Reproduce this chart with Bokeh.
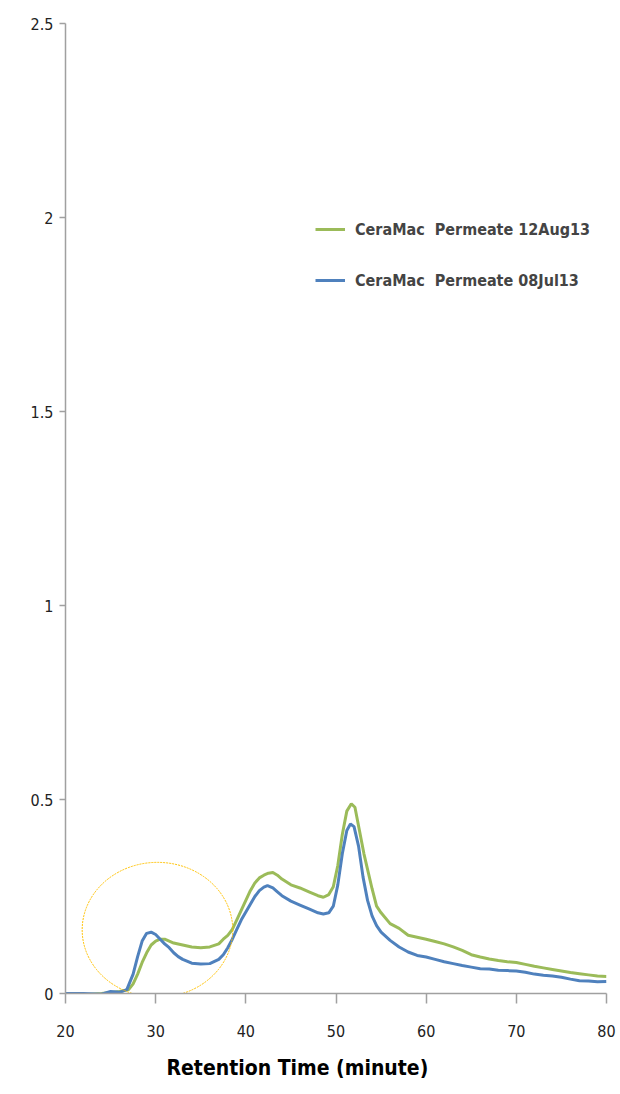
from bokeh.plotting import figure
from bokeh.models import Legend, LegendItem, FixedTicker, Range1d, Title
from bokeh.embed import file_html
from bokeh.resources import INLINE

# ---- data ----
blue_t = [20, 22, 24, 25, 26, 26.8, 27.5, 28, 28.5, 29, 29.5, 30, 30.5, 31, 31.5, 32, 32.5, 33, 34, 35,
          36, 37, 37.5, 38, 38.5, 39, 39.5, 40, 40.5, 41, 41.5, 42, 42.4, 43, 43.5, 44, 45, 46, 47, 48,
          48.6, 49.2, 49.7, 50.2, 50.7, 51.2, 51.6, 52, 52.5, 53, 53.5, 54, 54.5, 55, 56, 57, 58, 59, 60,
          61, 62, 63, 64, 65, 66, 67, 68, 69, 70, 71, 72, 73, 74, 75, 76, 77, 78, 79, 80]
blue_v = [0.0, 0.0, -0.002, 0.005, 0.003, 0.01, 0.05, 0.095, 0.135, 0.155, 0.158, 0.152, 0.14, 0.128,
          0.118, 0.105, 0.095, 0.088, 0.078, 0.076, 0.077, 0.088, 0.10, 0.118, 0.14, 0.165, 0.19, 0.21,
          0.23, 0.25, 0.265, 0.274, 0.278, 0.272, 0.262, 0.252, 0.238, 0.228, 0.218, 0.208, 0.205, 0.208,
          0.225, 0.28, 0.36, 0.42, 0.437, 0.43, 0.38, 0.30, 0.24, 0.20, 0.175, 0.158, 0.137, 0.12, 0.107,
          0.098, 0.094, 0.088, 0.082, 0.077, 0.072, 0.068, 0.064, 0.063, 0.060, 0.059, 0.058, 0.055, 0.050,
          0.047, 0.045, 0.042, 0.037, 0.033, 0.032, 0.030, 0.031]

green_t = [20, 22, 24, 26, 27, 27.5, 28, 28.5, 29, 29.5, 30, 30.5, 31, 31.5, 32, 33, 34, 35, 36, 37,
           37.5, 38, 38.5, 39, 39.5, 40, 40.5, 41, 41.5, 42, 42.5, 43, 43.5, 44, 45, 46, 47, 48, 48.6,
           49.2, 49.7, 50.2, 50.7, 51.2, 51.7, 52.1, 52.6, 53.1, 53.5, 54, 54.5, 55, 56, 57, 58, 59, 60,
           61, 62, 63, 64, 65, 66, 67, 68, 69, 70, 71, 72, 73, 74, 75, 76, 77, 78, 79, 80]
green_v = [-0.004, -0.003, 0.0, 0.005, 0.01, 0.025, 0.05, 0.08, 0.105, 0.125, 0.135, 0.14, 0.14, 0.135,
           0.13, 0.125, 0.12, 0.118, 0.12, 0.128, 0.14, 0.15, 0.165, 0.19, 0.215, 0.24, 0.265, 0.285,
           0.298, 0.305, 0.31, 0.312, 0.305, 0.295, 0.28, 0.272, 0.262, 0.252, 0.248, 0.255, 0.275, 0.33,
           0.41, 0.47, 0.489, 0.48, 0.42, 0.36, 0.32, 0.27, 0.225, 0.208, 0.18, 0.168, 0.15, 0.145, 0.14,
           0.134, 0.128, 0.12, 0.111, 0.1, 0.094, 0.089, 0.085, 0.082, 0.080, 0.075, 0.070, 0.066, 0.062,
           0.058, 0.054, 0.051, 0.048, 0.045, 0.044]

series_names = ["CeraMac  Permeate 12Aug13", "CeraMac  Permeate 08Jul13"]
x_ticks = [20, 30, 40, 50, 60, 70, 80]
y_ticks = [0, 0.5, 1, 1.5, 2, 2.5]
y_tick_labels = ["0", "0.5", "1", "1.5", "2", "2.5"]
x_title = "Retention Time (minute)"

# highlight ellipse (center, width, height in data units)
hl_x, hl_y, hl_w, hl_h = 30.2, 0.164, 16.7, 0.348

FONT = "DejaVu Sans Condensed, Roboto, sans-serif"
GREEN = "#9BBB59"
BLUE = "#4F81BD"
AXIS = "#A0A0A0"

p = figure(width=620, height=1094, output_backend="svg", toolbar_location=None,
           x_range=Range1d(20, 80), y_range=Range1d(0, 2.5),
           min_border_left=65, min_border_right=14, min_border_top=23, min_border_bottom=101)
p.outline_line_color = None
p.grid.visible = False
p.background_fill_color = "white"
p.border_fill_color = "white"

g = p.line(green_t, green_v, line_color=GREEN, line_width=3)
b = p.line(blue_t, blue_v, line_color=BLUE, line_width=3)

p.ellipse(x=[hl_x], y=[hl_y], width=[hl_w], height=[hl_h], fill_alpha=0,
          line_color="#FFC000", line_width=1, line_dash="2 1")

# axes
xa = p.xaxis[0]
xa.ticker = FixedTicker(ticks=x_ticks)
xa.minor_tick_line_color = None
xa.major_tick_in = 0
xa.major_tick_out = 10
xa.axis_line_color = AXIS
xa.axis_line_width = 1.5
xa.major_tick_line_color = AXIS
xa.major_tick_line_width = 1.5
xa.major_label_text_font = FONT
xa.major_label_text_font_size = "16px"
xa.major_label_text_color = "#222222"
xa.major_label_standoff = 21

# x-axis title as a below-title, shifted left as in the reference
p.add_layout(Title(text=x_title, align="left", offset=101, standoff=29,
                   text_font=FONT, text_font_size="21px", text_font_style="bold",
                   text_color="black"), "below")

ya = p.yaxis[0]
ya.ticker = FixedTicker(ticks=y_ticks)
ya.major_label_overrides = {t: l for t, l in zip(y_ticks, y_tick_labels)}
ya.minor_tick_line_color = None
ya.major_tick_in = 0
ya.major_tick_out = 6
ya.axis_line_color = AXIS
ya.axis_line_width = 1.5
ya.major_tick_line_color = AXIS
ya.major_tick_line_width = 1.5
ya.major_label_text_font = FONT
ya.major_label_text_font_size = "16px"
ya.major_label_text_color = "#222222"
ya.major_label_standoff = 6

legend = Legend(items=[LegendItem(label=series_names[0], renderers=[g]),
                       LegendItem(label=series_names[1], renderers=[b])],
                location=(250, 703), padding=0, spacing=31,
                glyph_width=30, glyph_height=20, label_height=20,
                label_text_font=FONT, label_text_font_size="16px",
                label_text_font_style="bold", label_standoff=10,
                border_line_alpha=0, background_fill_alpha=0)
p.add_layout(legend)

open("out.html", "w").write(file_html(p, INLINE))
